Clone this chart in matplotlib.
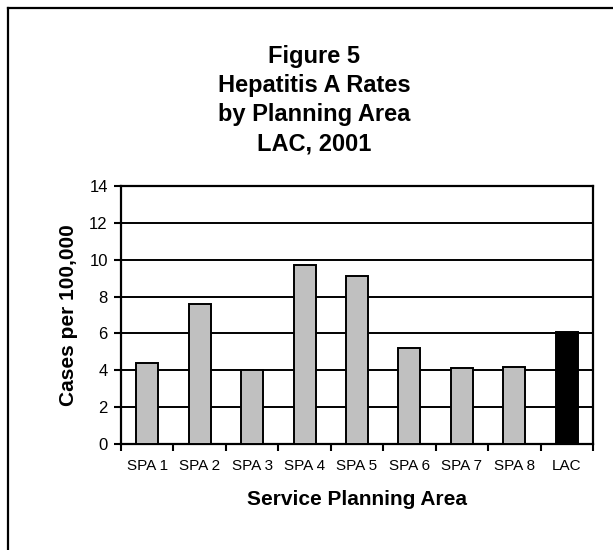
import matplotlib.pyplot as plt
from matplotlib.lines import Line2D

plt.rcParams['font.family'] = ['Liberation Sans', 'DejaVu Sans']

# ---------- Data ----------
areas = ['SPA 1', 'SPA 2', 'SPA 3', 'SPA 4', 'SPA 5', 'SPA 6', 'SPA 7', 'SPA 8', 'LAC']
rates = [4.4, 7.6, 4.0, 9.7, 9.1, 5.2, 4.1, 4.2, 6.1]
colors = ['#c0c0c0'] * 8 + ['#000000']
y_ticks = [0, 2, 4, 6, 8, 10, 12, 14]

W, H = 613, 550
fig = plt.figure(figsize=(W / 100, H / 100), dpi=100, facecolor='white')

# outer frame (only left and top edges visible)
fig.add_artist(Line2D([8 / W, 8 / W], [0, 1 - 8 / H], transform=fig.transFigure,
                      color='black', lw=1.6))
fig.add_artist(Line2D([8 / W, 1], [1 - 8 / H, 1 - 8 / H], transform=fig.transFigure,
                      color='black', lw=1.6))

# axes: x 121..593, y 186..444
ax = fig.add_axes([121 / W, 1 - 444 / H, (593 - 121) / W, (444 - 186) / H])

x = range(len(areas))
ax.bar(x, rates, width=0.42, color=colors, edgecolor='black', linewidth=1.4, zorder=3)

ax.set_xlim(-0.5, len(areas) - 0.5)
ax.set_ylim(0, 14)
ax.set_yticks(y_ticks)
ax.yaxis.grid(True, color='black', lw=1.4, zorder=0)
ax.set_axisbelow(True)

ax.set_xticks([i - 0.5 for i in range(len(areas) + 1)], minor=False)
ax.set_xticklabels([])
ax.set_xticks(list(x), minor=True)
ax.set_xticklabels(areas, minor=True, fontsize=11)
ax.tick_params(axis='x', which='minor', length=0, pad=11)
ax.tick_params(axis='x', which='major', length=5, width=1.5, direction='out')
ax.tick_params(axis='y', length=5, width=1.5, labelsize=12, pad=4.5)

for side in ['left', 'bottom', 'right', 'top']:
    ax.spines[side].set_linewidth(1.6)

ax.set_ylabel('Cases per 100,000', fontsize=15, fontweight='bold', labelpad=8)
ax.set_xlabel('Service Planning Area', fontsize=15, fontweight='bold', labelpad=12)

title = 'Figure 5\nHepatitis A Rates\nby Planning Area\nLAC, 2001'
fig.text(314 / W, 1 - 100 / H, title, ha='center', va='center', fontsize=17,
         fontweight='bold', linespacing=1.35)

fig.savefig('out.png', dpi=100, facecolor='white')
